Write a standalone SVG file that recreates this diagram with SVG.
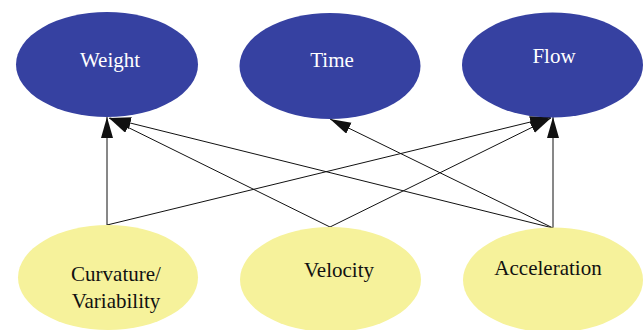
<svg xmlns="http://www.w3.org/2000/svg" width="644" height="330" viewBox="0 0 644 330">
<defs>
<marker id="ah" markerUnits="userSpaceOnUse" markerWidth="22" markerHeight="14" refX="21" refY="6" orient="auto">
<path d="M0,0 L21,6 L0,12 Z" fill="#111"/>
</marker>
<style>
.top{fill:#3641A1;}
.bot{fill:#F6F29B;}
.lbl{font-family:"Liberation Serif","Times New Roman",serif;font-size:21px;text-anchor:middle;}
.wt{fill:#ffffff;}
.bk{fill:#111111;}
.edge{stroke:#111;stroke-width:1;fill:none;marker-end:url(#ah);}
</style>
</defs>
<rect width="644" height="330" fill="#ffffff"/>
<g id="connectors">
<line class="edge" x1="107" y1="225" x2="107" y2="117"/>
<line class="edge" x1="107" y1="225" x2="551" y2="117"/>
<line class="edge" x1="330" y1="227" x2="109" y2="118"/>
<line class="edge" x1="330" y1="227" x2="551" y2="118"/>
<line class="edge" x1="553" y1="228" x2="110" y2="118"/>
<line class="edge" x1="553" y1="228" x2="330" y2="119"/>
<line class="edge" x1="553" y1="228" x2="553" y2="117"/>
</g>
<g id="weight">
<ellipse class="top" cx="107" cy="64.5" rx="91" ry="52.5"/>
<text class="lbl wt" x="110" y="67">Weight</text>
</g>
<g id="time">
<ellipse class="top" cx="330" cy="66" rx="90.5" ry="53"/>
<text class="lbl wt" x="332" y="67">Time</text>
</g>
<g id="flow">
<ellipse class="top" cx="552.5" cy="65" rx="90.5" ry="52.5"/>
<text class="lbl wt" x="554" y="63">Flow</text>
</g>
<g id="curvature">
<ellipse class="bot" cx="108" cy="277.5" rx="90" ry="52.5"/>
<text class="lbl bk" x="116" y="281">Curvature/</text>
<text class="lbl bk" x="116" y="308">Variability</text>
</g>
<g id="velocity">
<ellipse class="bot" cx="330.5" cy="279.5" rx="90.5" ry="52.5"/>
<text class="lbl bk" x="339" y="277">Velocity</text>
</g>
<g id="acceleration">
<ellipse class="bot" cx="553" cy="280" rx="90" ry="52.5"/>
<text class="lbl bk" x="548" y="275">Acceleration</text>
</g>
</svg>
